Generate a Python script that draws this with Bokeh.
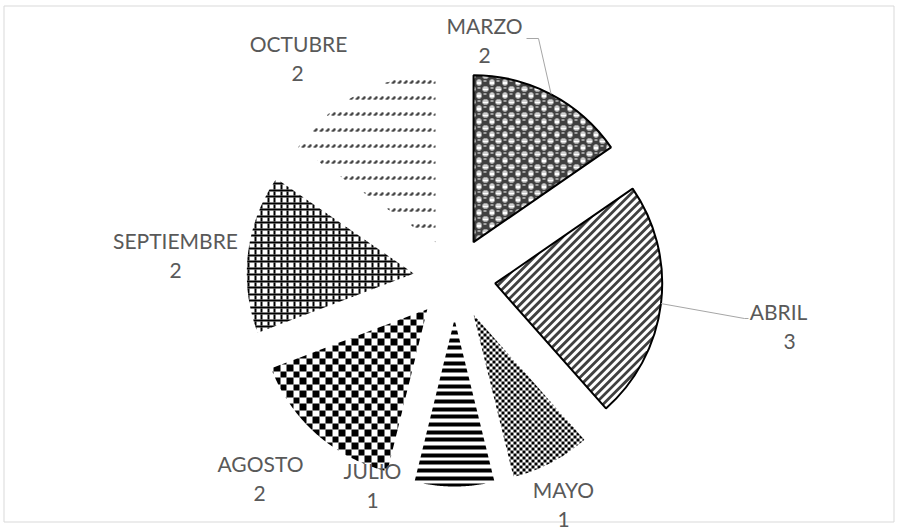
import math

from bokeh.plotting import figure
from bokeh.models import Range1d
from bokeh.core.properties import value
from bokeh.embed import file_html
from bokeh.resources import INLINE

# Monthly counts shown in the pie
months = ["MARZO", "ABRIL", "MAYO", "JULIO", "AGOSTO", "SEPTIEMBRE", "OCTUBRE"]
counts = [2, 3, 1, 1, 2, 2, 2]

W, H = 906, 531
CX, CY = 454, 278          # pie centre in screen pixels (y down)
RADIUS = 167
EXPLODE = 41

# label anchors in screen pixels: (name x, name y, value x)
label_pos = {
    "MARZO": (484, 25, 484),
    "ABRIL": (778, 311, 789),
    "MAYO": (563, 489, 563),
    "JULIO": (372, 470, 372),
    "AGOSTO": (260, 463, 259),
    "SEPTIEMBRE": (175, 240, 175),
    "OCTUBRE": (298, 43, 297),
}

TEXT_COLOR = "#595959"
DARK = "#404040"


# ---- fill patterns, defined on the screen pixel grid --------------------
def sphere_white(X, Y):
    x0, y0 = X % 13, Y % 13
    a, lx, sx = (0, x0, 7) if x0 < 7 else (1, x0 - 7, 6)
    b, ly, sy = (0, y0, 7) if y0 < 7 else (1, y0 - 7, 6)
    if (a + b) % 2 == 1:
        # light cell: inset by one pixel, corners knocked off
        if lx == 0 or ly == 0:
            return False
        corner = lx in (1, sx - 1) and ly in (1, sy - 1)
        return not corner
    # dark cell with a small highlight
    return ly == 2 and lx in (2, 3, 4)


DASH = {(0, 3), (0, 4), (1, 2), (1, 3), (1, 4), (2, 1), (2, 2), (2, 3)}


def dash_diag(X, Y):
    return (Y % 16, X % 6) in DASH


bitmaps = {
    "sphere": sphere_white,
    "smallcheck": lambda X, Y: (X // 3 + Y // 3) % 2 == 0,
    "hstripe": lambda X, Y: (3 * Y) % 23 < 12,
    "largecheck": lambda X, Y: ((2 * X) // 13 + (2 * Y) // 13) % 2 == 0,
    "grid": lambda X, Y: X % 13 in (0, 1, 7, 8) or Y % 13 in (0, 1, 7, 8),
    "dashdiag": dash_diag,
}

slice_style = {
    "MARZO": dict(base=DARK, pattern="sphere", ink="white", outline=True),
    "ABRIL": dict(base="white", pattern="updiag", ink=DARK, outline=True),
    "MAYO": dict(base="white", pattern="smallcheck", ink="black", outline=False),
    "JULIO": dict(base="white", pattern="hstripe", ink="black", outline=False),
    "AGOSTO": dict(base="white", pattern="largecheck", ink="black", outline=False),
    "SEPTIEMBRE": dict(base="white", pattern="grid", ink="black", outline=False),
    "OCTUBRE": dict(base="white", pattern="dashdiag", ink="black", outline=False),
}


def wedge_polygon(ox, oy, r, a0, a1, n=90):
    pts = [(ox, oy)]
    for i in range(n + 1):
        t = math.radians(a0 + (a1 - a0) * i / n)
        pts.append((ox + r * math.sin(t), oy - r * math.cos(t)))
    return pts


def clip(subject, clipper):
    # Sutherland-Hodgman against a convex clipper
    area = sum(clipper[i][0] * clipper[(i + 1) % len(clipper)][1]
               - clipper[(i + 1) % len(clipper)][0] * clipper[i][1] for i in range(len(clipper)))
    sgn = 1 if area > 0 else -1
    out = subject
    for i in range(len(clipper)):
        if not out:
            break
        ax, ay = clipper[i]
        bx, by = clipper[(i + 1) % len(clipper)]

        def inside(p):
            return sgn * ((bx - ax) * (p[1] - ay) - (by - ay) * (p[0] - ax)) >= -1e-9

        def inter(p, q):
            dx1, dy1 = q[0] - p[0], q[1] - p[1]
            dx2, dy2 = bx - ax, by - ay
            den = dx1 * dy2 - dy1 * dx2
            t = ((ax - p[0]) * dy2 - (ay - p[1]) * dx2) / den
            return (p[0] + t * dx1, p[1] + t * dy1)

        inp = out
        out = []
        for j in range(len(inp)):
            cur, prev = inp[j], inp[j - 1]
            if inside(cur):
                if not inside(prev):
                    out.append(inter(prev, cur))
                out.append(cur)
            elif inside(prev):
                out.append(inter(prev, cur))
    return out


def in_sector(px, py, ox, oy, r, a0, a1):
    dx, dy = px - ox, py - oy
    if dx * dx + dy * dy > r * r:
        return False
    ang = math.degrees(math.atan2(dx, -dy)) % 360
    return a0 - 1e-6 <= ang <= a1 + 1e-6 or (a1 >= 360 - 1e-6 and ang < 1e-6)


def bitmap_rects(fn, x0, x1, y0, y1):
    rects = []
    prev_runs, start_y = None, y0
    for Y in range(y0, y1 + 1):
        runs = []
        if Y < y1:
            X = x0
            while X < x1:
                if fn(X, Y):
                    s = X
                    while X < x1 and fn(X, Y):
                        X += 1
                    runs.append((s, X))
                else:
                    X += 1
        runs = tuple(runs)
        if runs != prev_runs:
            if prev_runs:
                rects += [(a, b, start_y, Y) for a, b in prev_runs]
            prev_runs, start_y = runs, Y
    return rects


def diag_stripes(x0, x1, y0, y1, period=8.3, width=4.0):
    polys = []
    k0 = int((x0 + y0) // period) - 1
    k1 = int((x1 + y1) // period) + 1
    for k in range(k0, k1 + 1):
        c0, c1 = k * period, k * period + width
        xa, xb = x0 - 5, x1 + 5
        polys.append([(xa, c0 - xa), (xb, c0 - xb), (xb, c1 - xb), (xa, c1 - xa)])
    return polys


p = figure(width=W, height=H, x_range=Range1d(0, W), y_range=Range1d(0, H),
           x_axis_type=None, y_axis_type=None, toolbar_location=None,
           output_backend="svg", min_border=0)
p.outline_line_color = None
p.grid.visible = False
p.background_fill_color = "white"

# chart frame
p.quad(left=[3.5], right=[893.5], bottom=[H - 521.5], top=[H - 5.5],
       fill_color=None, line_color="#d9d9d9", line_width=1)

total = sum(counts)
cum = 0
arc_mid = {}
for month, n in zip(months, counts):
    a0 = 360.0 * cum / total
    a1 = 360.0 * (cum + n) / total
    mid = math.radians((a0 + a1) / 2)
    cum += n
    ox = CX + EXPLODE * math.sin(mid)
    oy = CY - EXPLODE * math.cos(mid)
    arc_mid[month] = (ox + RADIUS * math.sin(mid), oy - RADIUS * math.cos(mid))
    style = slice_style[month]

    # slice body
    p.wedge(x=[ox], y=[H - oy], radius=RADIUS,
            start_angle=math.radians(90 - a0), end_angle=math.radians(90 - a1),
            direction="clock", fill_color=style["base"], line_color=None)

    # pattern, clipped to the slice
    poly = wedge_polygon(ox, oy, RADIUS, a0, a1)
    bx0 = int(math.floor(min(q[0] for q in poly)))
    bx1 = int(math.ceil(max(q[0] for q in poly)))
    by0 = int(math.floor(min(q[1] for q in poly)))
    by1 = int(math.ceil(max(q[1] for q in poly)))
    if style["pattern"] == "updiag":
        shapes = diag_stripes(bx0, bx1, by0, by1)
    else:
        shapes = [[(a, t), (b, t), (b, bt), (a, bt)]
                  for a, b, t, bt in bitmap_rects(bitmaps[style["pattern"]], bx0, bx1, by0, by1)]
    xs, ys = [], []
    for shp in shapes:
        if all(in_sector(qx, qy, ox, oy, RADIUS, a0, a1) for qx, qy in shp):
            c = shp
        else:
            c = clip(shp, poly)
        if len(c) >= 3:
            xs.append([q[0] for q in c])
            ys.append([H - q[1] for q in c])
    p.patches(xs=xs, ys=ys, fill_color=style["ink"], line_color=None)

    if style["outline"]:
        p.wedge(x=[ox], y=[H - oy], radius=RADIUS,
                start_angle=math.radians(90 - a0), end_angle=math.radians(90 - a1),
                direction="clock", fill_color=None, line_color="black", line_width=2)

# leader lines
mx, my = arc_mid["MARZO"]
p.line(x=[526, 538, mx], y=[H - 38, H - 38, H - my], line_color="#a6a6a6", line_width=1)
ax_, ay_ = arc_mid["ABRIL"]
p.line(x=[ax_, 744, 748], y=[H - ay_, H - 318, H - 318], line_color="#a6a6a6", line_width=1)

# data labels: category name and value
for month, n in zip(months, counts):
    lx, ly, vx = label_pos[month]
    p.text(x=[lx, vx], y=[H - ly, H - ly - 30], text=[month, str(n)],
           text_align="center", text_baseline="middle",
           text_font=value("Lato"), text_font_size="21px", text_color=TEXT_COLOR)

open("out.html", "w").write(file_html(p, INLINE))
